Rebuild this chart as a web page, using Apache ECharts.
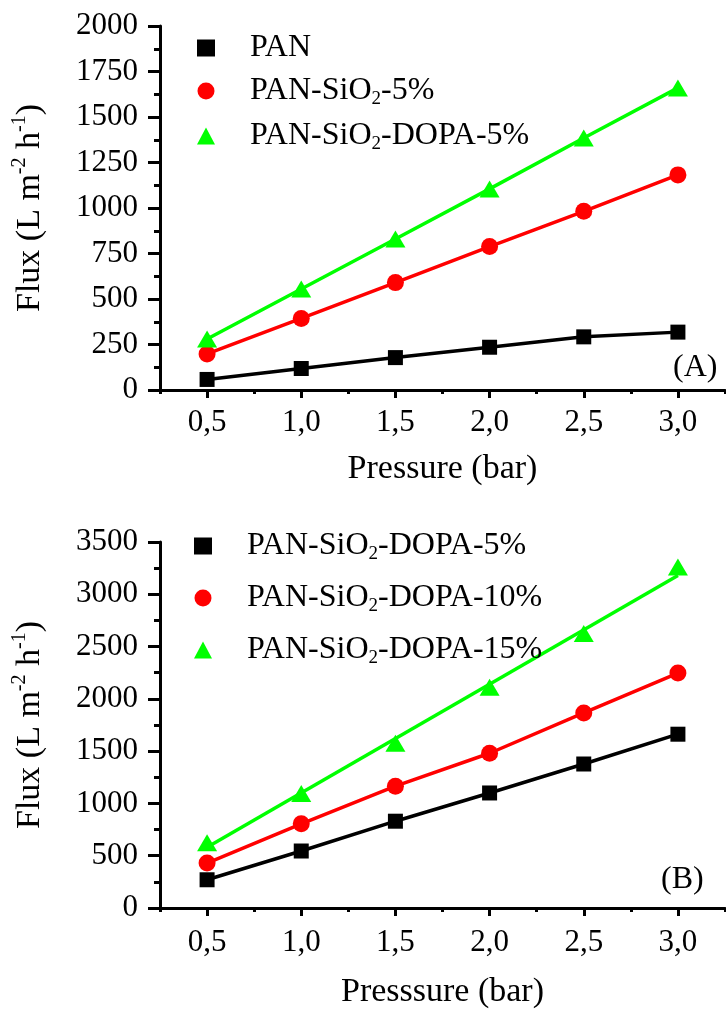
<!DOCTYPE html>
<html><head><meta charset="utf-8">
<script src="https://cdn.jsdelivr.net/npm/echarts@6/dist/echarts.min.js"></script>
<style>html,body{margin:0;padding:0;background:#fff}#c{width:726px;height:1012px}</style>
</head><body><div id="c"></div>
<script>
// ---- data ----
const PRESSURE = [0.5, 1.0, 1.5, 2.0, 2.5, 3.0];
const X_TICKS = [0.5, 1.0, 1.5, 2.0, 2.5, 3.0];
// Panel A
const A_PAN = [58, 118, 178, 235, 292, 318];
const A_SIO2_5 = [198, 393, 590, 788, 982, 1182];
const A_DOPA_5 = [280, 555, 830, 1105, 1385, 1660];
// Panel B
const B_DOPA_5 = [270, 545, 830, 1100, 1377, 1662];
const B_DOPA_10 = [430, 805, 1165, 1480, 1865, 2247];
const B_DOPA_15 = [625, 1095, 1575, 2110, 2625, 3260];
// fitted line drawn for the 15% series (ends below the last marker)
const B_DOPA_15_FIT_X = [0.5, 3.0];
const B_DOPA_15_FIT = [580, 3180];

const LEGEND_TEXT = {
  a1: '{n|PAN}',
  a2: '{n|PAN-SiO}{s|2}{n|-5%}',
  a3: '{n|PAN-SiO}{s|2}{n|-DOPA-5%}',
  b1: '{n|PAN-SiO}{s|2}{n|-DOPA-5%}',
  b2: '{n|PAN-SiO}{s|2}{n|-DOPA-10%}',
  b3: '{n|PAN-SiO}{s|2}{n|-DOPA-15%}'
};

const FONT = "'Liberation Serif', 'Times New Roman', serif";
const BLACK = '#000000', RED = '#ff0000', GREEN = '#00ff00';

const pairs = (xs, ys) => xs.map((x, i) => [x, ys[i]]);
const fmtX = v => v.toFixed(1).replace('.', ',');

function xAxes(gi, name, gap, margin) {
  return [{
    type: 'value', gridIndex: gi, position: 'bottom', min: 0.25, max: 3.25, interval: 0.25,
    name: name, nameLocation: 'middle', nameGap: gap,
    nameTextStyle: { fontFamily: FONT, fontSize: 34, color: '#000' },
    axisLine: { show: true, lineStyle: { color: '#000', width: 3 } },
    axisTick: { show: true, customValues: X_TICKS, length: 8, lineStyle: { color: '#000', width: 3 } },
    axisLabel: { show: true, customValues: X_TICKS, formatter: fmtX, margin: margin,
      fontFamily: FONT, fontSize: 31, color: '#000' },
    splitLine: { show: false }
  }, {
    type: 'value', gridIndex: gi, position: 'bottom', min: 0.25, max: 3.25, interval: 0.25,
    axisLine: { show: false },
    axisTick: { show: true, length: 4, lineStyle: { color: '#000', width: 3 } },
    axisLabel: { show: false }, splitLine: { show: false }
  }];
}

function yAxis(gi, max, interval) {
  return {
    type: 'value', gridIndex: gi, min: 0, max: max, interval: interval,
    name: '{n|Flux (L m}{s|-2}{n| h}{s|-1}{n|)}', nameLocation: 'middle', nameGap: 110,
    nameTextStyle: { fontFamily: FONT, fontSize: 34, color: '#000',
      rich: { n: { fontFamily: FONT, fontSize: 34, color: '#000', lineHeight: 40 },
              s: { fontFamily: FONT, fontSize: 20, color: '#000', verticalAlign: 'top' } } },
    axisLine: { show: true, lineStyle: { color: '#000', width: 3 } },
    axisTick: { show: true, length: 12, lineStyle: { color: '#000', width: 3 } },
    minorTick: { show: true, splitNumber: 2, length: 6, lineStyle: { color: '#000', width: 3 } },
    axisLabel: { margin: 22, fontFamily: FONT, fontSize: 31, color: '#000', formatter: v => String(v) },
    splitLine: { show: false }, minorSplitLine: { show: false }
  };
}

function lineS(xi, yi, data, color) {
  return { type: 'line', xAxisIndex: xi, yAxisIndex: yi, data: data, showSymbol: false,
    symbol: 'none', lineStyle: { color: color, width: 3.5 }, z: 2, silent: true, animation: false };
}
function scatS(name, xi, yi, data, color, symbol, size) {
  return { type: 'scatter', name: name, xAxisIndex: xi, yAxisIndex: yi, data: data,
    symbol: symbol, symbolSize: size, itemStyle: { color: color, opacity: 1 }, z: 3, animation: false };
}

function legend(names, left, top, gap) {
  return {
    orient: 'vertical', left: left, top: top, itemWidth: 18, itemHeight: 17, itemGap: gap,
    data: names, formatter: n => LEGEND_TEXT[n], selectedMode: false,
    textStyle: { fontFamily: FONT, fontSize: 32, color: '#000', padding: [0, 0, 0, 30],
      rich: { n: { fontFamily: FONT, fontSize: 32, color: '#000', lineHeight: 36 },
              s: { fontFamily: FONT, fontSize: 19, color: '#000', verticalAlign: 'bottom' } } }
  };
}

const option = {
  backgroundColor: '#fff',
  animation: false,
  grid: [
    { left: 160, right: 1, top: 26, height: 364, outerBoundsMode: 'none' },
    { left: 160, right: 1, top: 542, height: 366, outerBoundsMode: 'none' }
  ],
  xAxis: [...xAxes(0, 'Pressure (bar)', 62, 17), ...xAxes(1, 'Presssure (bar)', 67, 19)],
  yAxis: [yAxis(0, 2000, 250), yAxis(1, 3500, 500)],
  legend: [legend(['a1', 'a2', 'a3'], 192, 27, 11), legend(['b1', 'b2', 'b3'], 189, 525, 18)],
  graphic: [
    { type: 'text', left: 673, top: 352, style: { text: '(A)', font: '32px ' + FONT, fill: '#000' } },
    { type: 'text', left: 661, top: 864, style: { text: '(B)', font: '32px ' + FONT, fill: '#000' } }
  ],
  series: [
    lineS(0, 0, pairs(PRESSURE, A_PAN), BLACK),
    lineS(0, 0, pairs(PRESSURE, A_SIO2_5), RED),
    lineS(0, 0, pairs(PRESSURE, A_DOPA_5), GREEN),
    scatS('a1', 0, 0, pairs(PRESSURE, A_PAN), BLACK, 'rect', 15),
    scatS('a2', 0, 0, pairs(PRESSURE, A_SIO2_5), RED, 'circle', 17),
    scatS('a3', 0, 0, pairs(PRESSURE, A_DOPA_5), GREEN, 'triangle', [20, 17]),
    lineS(2, 1, pairs(PRESSURE, B_DOPA_5), BLACK),
    lineS(2, 1, pairs(PRESSURE, B_DOPA_10), RED),
    lineS(2, 1, pairs(B_DOPA_15_FIT_X, B_DOPA_15_FIT), GREEN),
    scatS('b1', 2, 1, pairs(PRESSURE, B_DOPA_5), BLACK, 'rect', 15),
    scatS('b2', 2, 1, pairs(PRESSURE, B_DOPA_10), RED, 'circle', 17),
    scatS('b3', 2, 1, pairs(PRESSURE, B_DOPA_15), GREEN, 'triangle', [20, 17])
  ]
};

const chart = echarts.init(document.getElementById('c'), null, { renderer: 'canvas' });
chart.setOption(option);
</script>
</body></html>
